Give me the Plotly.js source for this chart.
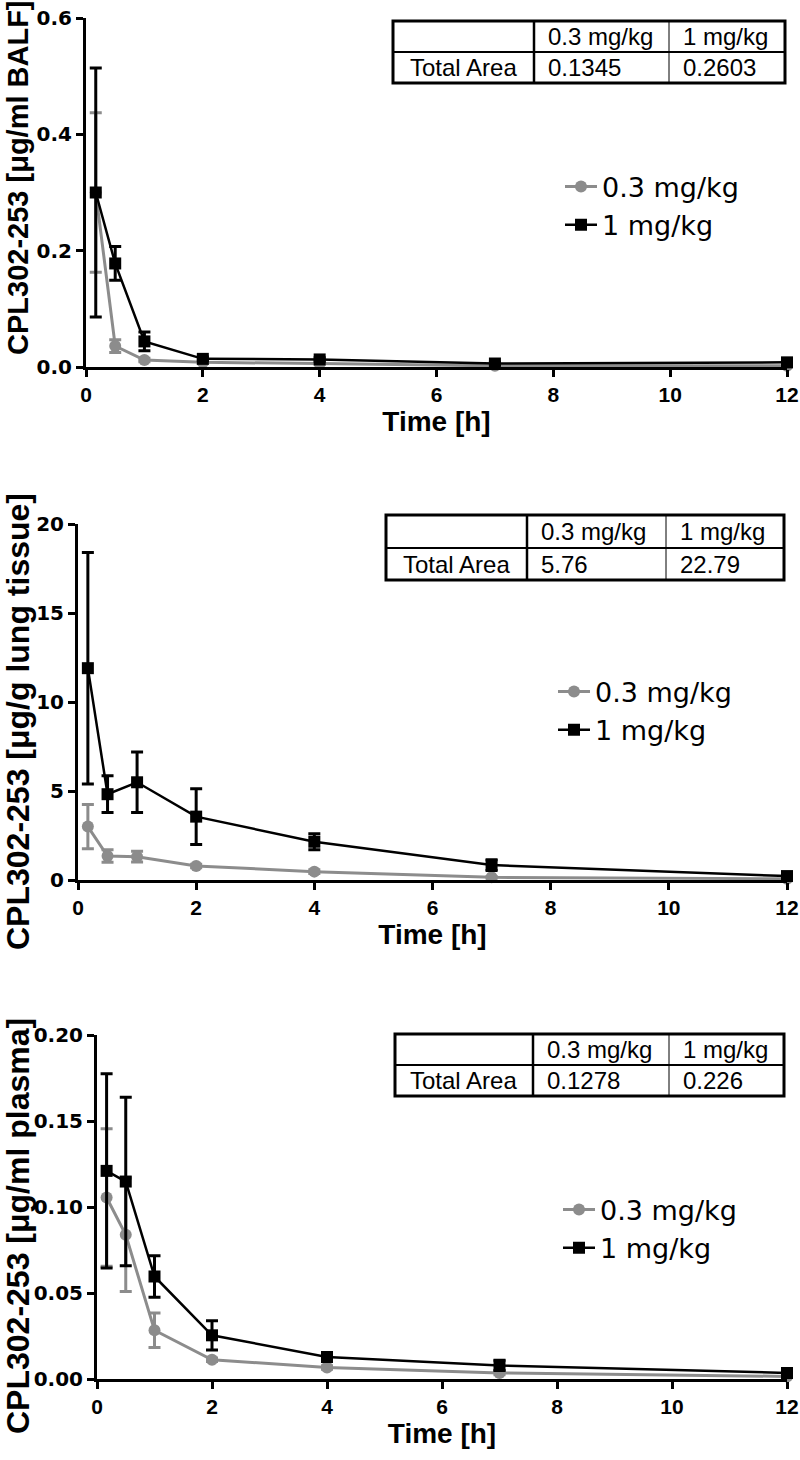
<!DOCTYPE html>
<html>
<head>
<meta charset="utf-8">
<script src="https://cdn.plot.ly/plotly-3.0.1.min.js"></script>
<style>html,body{margin:0;padding:0;background:#fff;}</style>
</head>
<body>
<div id="chart" style="width:800px;height:1460px;"></div>
<script>
// ---- data ----
const time = [0.167, 0.5, 1, 2, 4, 7, 12];
const timeTicks = [0, 2, 4, 6, 8, 10, 12];
const seriesNames = ['0.3 mg/kg', '1 mg/kg'];

const balfLow = [0.30, 0.036, 0.012, 0.008, 0.006, 0.002, 0.002];
const balfLowSD = [0.137, 0.011, 0.003, 0.001, 0.001, 0.001, 0.001];
const balfHigh = [0.30, 0.178, 0.044, 0.014, 0.013, 0.006, 0.008];
const balfHighSD = [0.214, 0.029, 0.016, 0.003, 0.003, 0.002, 0.002];

const lungLow = [3.0, 1.35, 1.31, 0.79, 0.47, 0.15, 0.07];
const lungLowSD = [1.24, 0.35, 0.30, 0.10, 0.10, 0.05, 0.03];
const lungHigh = [11.9, 4.82, 5.49, 3.56, 2.15, 0.84, 0.22];
const lungHighSD = [6.5, 1.03, 1.7, 1.57, 0.45, 0.30, 0.10];

const plasmaLow = [0.1055, 0.0838, 0.0283, 0.0112, 0.0067, 0.0035, 0.0015];
const plasmaLowSD = [0.040, 0.033, 0.010, 0.001, 0.001, 0.001, 0.0005];
const plasmaHigh = [0.121, 0.1148, 0.0596, 0.0254, 0.0128, 0.0079, 0.0035];
const plasmaHighSD = [0.0565, 0.049, 0.012, 0.0085, 0.0015, 0.003, 0.001];

const tableHeader = ['0.3 mg/kg', '1 mg/kg'];
const tableRowLabel = 'Total Area';
const balfArea = ['0.1345', '0.2603'];
const lungArea = ['5.76', '22.79'];
const plasmaArea = ['0.1278', '0.226'];

const yTitles = ['CPL302-253 [μg/ml BALF]', 'CPL302-253 [μg/g lung tissue]', 'CPL302-253 [μg/ml plasma]'];
const xTitle = 'Time [h]';

// ---- layout helpers ----
const W = 800, H = 1460;
const px = v => v / W;
const py = v => 1 - v / H;

const GRAY = 'rgb(140,140,140)';
const BLACK = 'rgb(0,0,0)';

const panels = [
  {low: balfLow, lowSD: balfLowSD, high: balfHigh, highSD: balfHighSD, area: balfArea,
   x0: 86, x1: 787, y0: 18, y1: 367, yr: [0, 0.6], dtick: 0.2, fmt: '.1f',
   tbl: {l: 393, r: 785, t: 21, b: 83, c1: 534, c2: 669, m: 52},
   leg: {x: 560, y: 206}, ytitle: {x: 18, y: 178, size: 29}},
  {low: lungLow, lowSD: lungLowSD, high: lungHigh, highSD: lungHighSD, area: lungArea,
   x0: 78, x1: 787, y0: 524, y1: 880, yr: [0, 20], dtick: 5, fmt: 'd',
   tbl: {l: 386, r: 784, t: 515, b: 580, c1: 527, c2: 666, m: 548},
   leg: {x: 553, y: 711}, ytitle: {x: 18, y: 722, size: 32}},
  {low: plasmaLow, lowSD: plasmaLowSD, high: plasmaHigh, highSD: plasmaHighSD, area: plasmaArea,
   x0: 97, x1: 787, y0: 1035, y1: 1379, yr: [0, 0.2], dtick: 0.05, fmt: '.2f',
   tbl: {l: 395, r: 784, t: 1034, b: 1096, c1: 533, c2: 669, m: 1065},
   leg: {x: 558, y: 1229}, ytitle: {x: 18, y: 1226, size: 32}}
];

const traces = [];
const layout = {
  width: W, height: H,
  margin: {l: 0, r: 0, t: 0, b: 0},
  paper_bgcolor: '#fff', plot_bgcolor: 'rgba(0,0,0,0)',
  showlegend: true,
  shapes: [], annotations: []
};

const tickFontX = {family: 'Liberation Sans, Arial, sans-serif', size: 21, color: '#000', weight: 'bold'};
const tickFontY = {family: 'DejaVu Sans, sans-serif', size: 20, color: '#000', weight: 'bold'};
const titleFontX = {family: 'Liberation Sans, Arial, sans-serif', size: 28, color: '#000', weight: 'bold'};
const legendFont = {family: 'DejaVu Sans, Liberation Sans, sans-serif', size: 27, color: '#000'};
const tableFont = {family: 'Liberation Sans, Arial, sans-serif', size: 24, color: '#000'};

panels.forEach((p, i) => {
  const n = i === 0 ? '' : String(i + 1);
  const xa = 'x' + n, ya = 'y' + n;
  const legName = 'legend' + n;
  const common = {x: time, xaxis: xa, yaxis: ya, mode: 'lines+markers', cliponaxis: false, legend: legName};
  traces.push(Object.assign({}, common, {
    y: p.low, name: seriesNames[0],
    line: {color: GRAY, width: 3},
    marker: {symbol: 'circle', size: 12, color: GRAY},
    error_y: {type: 'data', array: p.lowSD, visible: true, color: GRAY, thickness: 3, width: 6}
  }));
  traces.push(Object.assign({}, common, {
    y: p.high, name: seriesNames[1],
    line: {color: BLACK, width: 2.5},
    marker: {symbol: 'square', size: 12, color: BLACK},
    error_y: {type: 'data', array: p.highSD, visible: true, color: BLACK, thickness: 3, width: 6}
  }));

  layout['xaxis' + n] = {
    domain: [px(p.x0), px(p.x1)], anchor: ya, range: [0, 12],
    tickvals: timeTicks, ticktext: timeTicks.map(String),
    showline: true, linewidth: 3, linecolor: '#000', mirror: false,
    ticks: 'outside', ticklen: 7, tickwidth: 3, tickcolor: '#000',
    showgrid: false, zeroline: false, tickfont: tickFontX,
    ticklabeloverflow: 'allow',
    title: {text: xTitle, font: titleFontX, standoff: 1},
    fixedrange: true
  };
  layout['yaxis' + n] = {
    domain: [py(p.y1), py(p.y0)], anchor: xa, range: p.yr,
    dtick: p.dtick, tick0: 0, tickformat: p.fmt,
    showline: true, linewidth: 3, linecolor: '#000',
    ticks: 'outside', ticklen: 7, tickwidth: 3, tickcolor: '#000',
    showgrid: false, zeroline: false, tickfont: tickFontY,
    ticklabeloverflow: 'allow',
    fixedrange: true
  };
  layout[legName] = {
    x: px(p.leg.x), y: py(p.leg.y), xanchor: 'left', yanchor: 'middle',
    xref: 'paper', yref: 'paper',
    font: legendFont, bgcolor: 'rgba(0,0,0,0)', borderwidth: 0,
    itemwidth: 32, tracegroupgap: 0
  };

  // y title
  layout.annotations.push({
    xref: 'paper', yref: 'paper', x: px(p.ytitle.x), y: py(p.ytitle.y),
    xanchor: 'center', yanchor: 'middle', textangle: -90, showarrow: false,
    text: yTitles[i],
    font: {family: 'Liberation Sans, Arial, sans-serif', size: p.ytitle.size, color: '#000', weight: 'bold'}
  });

  // table
  const t = p.tbl;
  layout.shapes.push(
    {type: 'rect', xref: 'paper', yref: 'paper', x0: px(t.l), x1: px(t.r), y0: py(t.b), y1: py(t.t), line: {color: '#000', width: 3}},
    {type: 'line', xref: 'paper', yref: 'paper', x0: px(t.l), x1: px(t.r), y0: py(t.m), y1: py(t.m), line: {color: '#000', width: 2}},
    {type: 'line', xref: 'paper', yref: 'paper', x0: px(t.c1), x1: px(t.c1), y0: py(t.b), y1: py(t.t), line: {color: '#000', width: 2.5}},
    {type: 'line', xref: 'paper', yref: 'paper', x0: px(t.c2), x1: px(t.c2), y0: py(t.b), y1: py(t.t), line: {color: '#000', width: 1}}
  );
  const r1 = (t.t + t.m) / 2, r2 = (t.m + t.b) / 2;
  const ann = (x, y, text, anchor) => layout.annotations.push({
    xref: 'paper', yref: 'paper', x: px(x), y: py(y), xanchor: anchor, yanchor: 'middle',
    showarrow: false, text: text, font: tableFont
  });
  ann(t.c1 + 12, r1, tableHeader[0], 'left');
  ann(t.c2 + 12, r1, tableHeader[1], 'left');
  ann((t.l + t.c1) / 2, r2, tableRowLabel, 'center');
  ann(t.c1 + 12, r2, p.area[0], 'left');
  ann(t.c2 + 12, r2, p.area[1], 'left');
});

Plotly.newPlot('chart', traces, layout, {staticPlot: true, displayModeBar: false});
</script>
</body>
</html>
